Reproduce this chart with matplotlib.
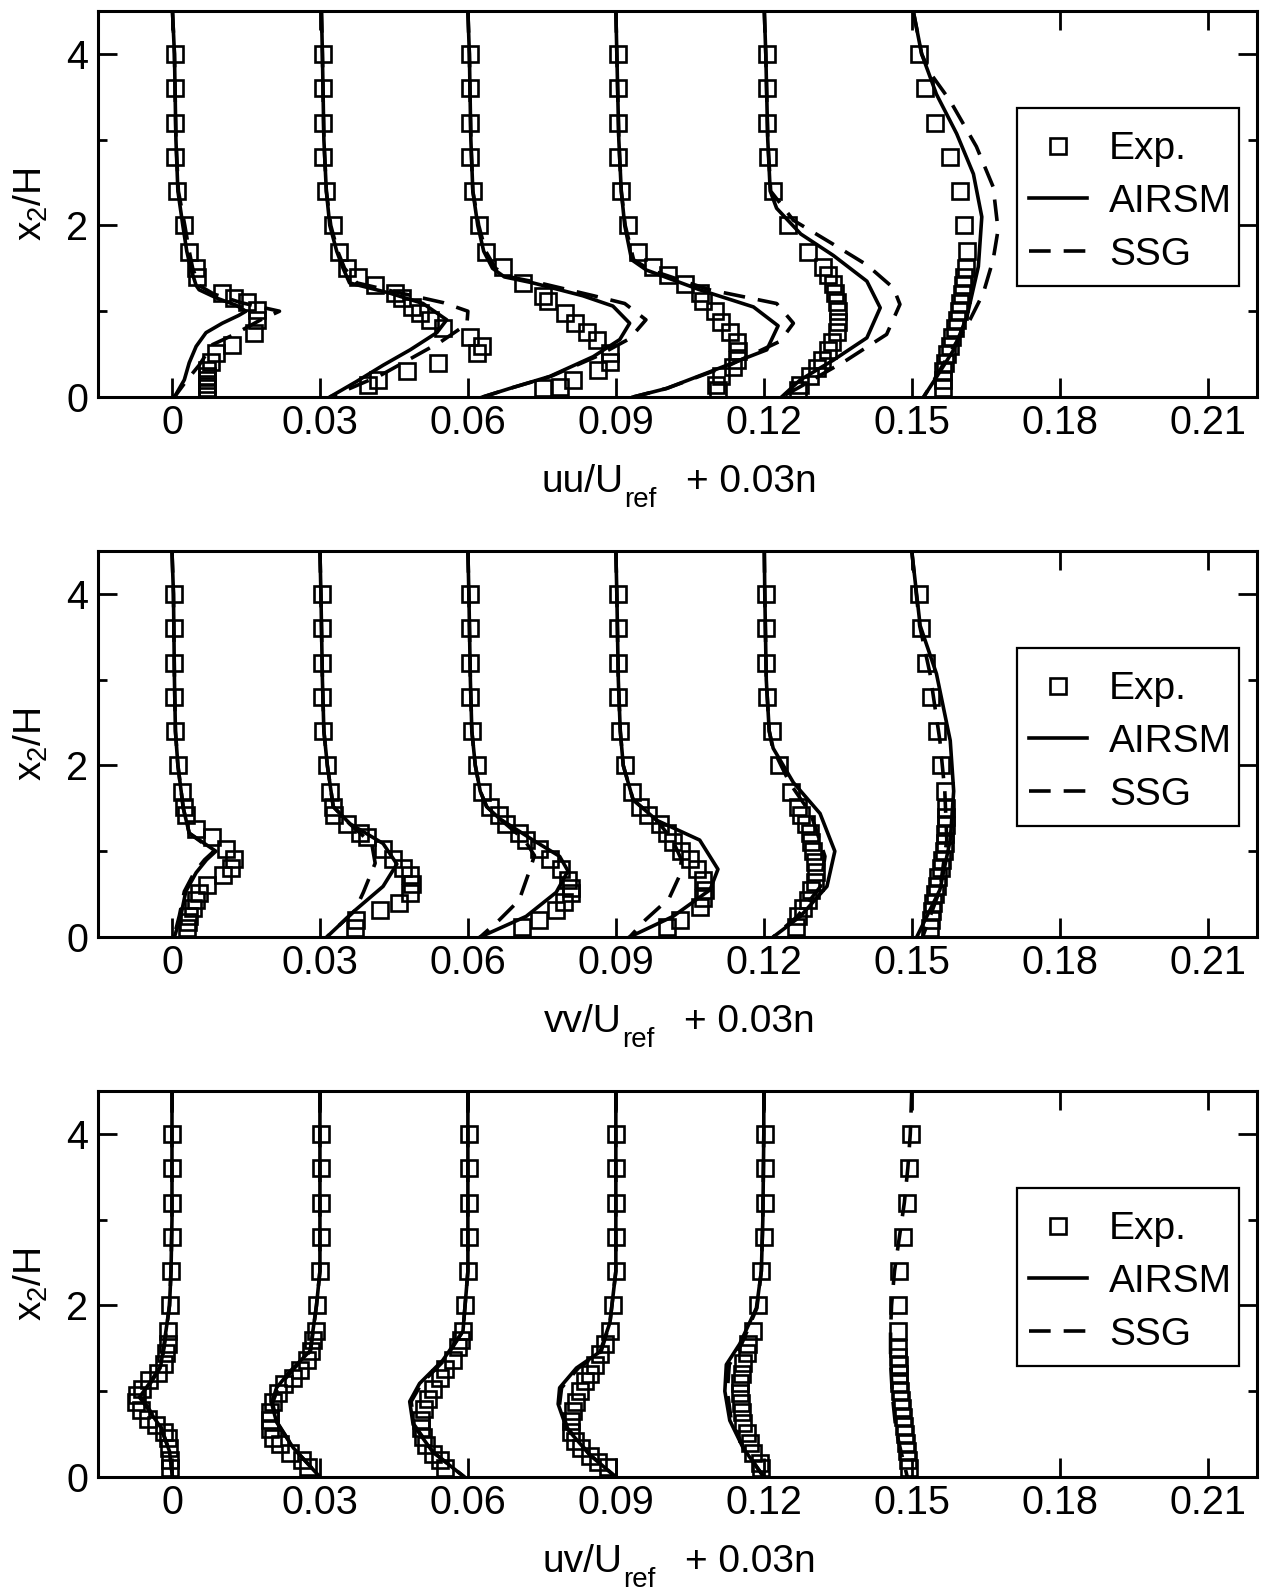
import numpy as np
import matplotlib
matplotlib.use("Agg")
import matplotlib.pyplot as plt
from matplotlib.ticker import FixedLocator
from matplotlib.lines import Line2D
from matplotlib.patches import Rectangle

# ---------------- data ----------------
shift = 0.03                       # profile n is shifted by 0.03*n
xticks = [0, 0.03, 0.06, 0.09, 0.12, 0.15, 0.18, 0.21]
xticklabels = ["0", "0.03", "0.06", "0.09", "0.12", "0.15", "0.18", "0.21"]
yticks_major = [0, 2, 4]
yticks_minor = [1, 3]
legend_labels = ["Exp.", "AIRSM", "SSG"]

# ---- uu ----
uu_exp_y = [
    [4.0, 3.6, 3.2, 2.8, 2.4, 2.0, 1.69, 1.5, 1.4, 1.21, 1.15, 1.11, 1.01, 0.9, 0.75, 0.61, 0.51, 0.41, 0.31, 0.25, 0.2, 0.15, 0.1, 0.05],
    [4.0, 3.6, 3.2, 2.8, 2.4, 2.0, 1.69, 1.5, 1.4, 1.31, 1.21, 1.15, 1.05, 0.98, 0.9, 0.8, 0.7, 0.59, 0.51, 0.4, 0.3, 0.2, 0.14],
    [4.0, 3.6, 3.2, 2.8, 2.4, 2.0, 1.69, 1.52, 1.33, 1.18, 1.12, 0.98, 0.86, 0.76, 0.67, 0.51, 0.41, 0.31, 0.2, 0.12, 0.1],
    [4.0, 3.6, 3.2, 2.8, 2.4, 2.0, 1.69, 1.52, 1.42, 1.32, 1.21, 1.12, 1.0, 0.87, 0.76, 0.64, 0.54, 0.43, 0.35, 0.25, 0.14, 0.08],
    [4.0, 3.6, 3.2, 2.8, 2.4, 2.0, 1.69, 1.52, 1.42, 1.32, 1.21, 1.11, 1.0, 0.88, 0.76, 0.64, 0.55, 0.43, 0.34, 0.24, 0.14, 0.08],
    [4.0, 3.6, 3.2, 2.8, 2.4, 2.0, 1.7, 1.5, 1.4, 1.3, 1.2, 1.1, 1.0, 0.9, 0.8, 0.7, 0.6, 0.5, 0.4, 0.3, 0.2, 0.1],
]
uu_exp_x = [
    [0.0007, 0.0007, 0.0007, 0.0007, 0.0011, 0.0025, 0.0035, 0.0049, 0.0051, 0.0102, 0.0126, 0.0153, 0.0173, 0.0173, 0.0167, 0.0122, 0.0089, 0.0079, 0.0072, 0.007, 0.007, 0.007, 0.007, 0.007],
    [0.0007, 0.0007, 0.0007, 0.0007, 0.0012, 0.0026, 0.0039, 0.0054, 0.0078, 0.0112, 0.0152, 0.0166, 0.0186, 0.0203, 0.0223, 0.025, 0.0305, 0.0328, 0.0318, 0.024, 0.0176, 0.0118, 0.0098],
    [0.0005, 0.0005, 0.0005, 0.0005, 0.001, 0.0022, 0.0037, 0.0071, 0.0112, 0.0153, 0.0163, 0.0197, 0.0217, 0.0241, 0.0261, 0.0288, 0.0288, 0.0264, 0.0213, 0.0186, 0.0152],
    [0.0004, 0.0004, 0.0004, 0.0004, 0.0011, 0.0025, 0.0045, 0.0076, 0.0106, 0.014, 0.017, 0.0177, 0.0201, 0.0214, 0.0231, 0.0245, 0.0248, 0.0245, 0.0238, 0.0214, 0.0204, 0.0207],
    [0.0006, 0.0006, 0.0006, 0.0008, 0.0019, 0.005, 0.009, 0.0121, 0.0131, 0.0141, 0.0144, 0.0148, 0.0151, 0.0151, 0.0148, 0.0138, 0.0131, 0.0117, 0.0107, 0.0094, 0.0073, 0.0069],
    [0.0014, 0.0027, 0.0047, 0.0077, 0.0097, 0.0106, 0.0112, 0.0109, 0.0106, 0.0103, 0.0101, 0.0098, 0.0095, 0.0091, 0.0088, 0.0081, 0.0078, 0.0071, 0.0067, 0.0064, 0.0063, 0.0064],
]
uu_airsm_y = [
    [4.5, 4.0, 3.0, 2.4, 2.0, 1.7, 1.5, 1.3, 1.25, 1.15, 1.07, 1.0, 0.95, 0.86, 0.75, 0.59, 0.4, 0.2, 0.0],
    [4.5, 4.0, 3.0, 2.4, 2.0, 1.7, 1.5, 1.33, 1.21, 1.09, 0.9, 0.75, 0.55, 0.37, 0.18, 0.0],
    [4.5, 4.0, 3.0, 2.4, 2.0, 1.7, 1.5, 1.4, 1.33, 1.18, 1.06, 0.86, 0.67, 0.47, 0.24, 0.1, 0.0],
    [4.5, 4.0, 3.0, 2.4, 2.0, 1.6, 1.48, 1.25, 1.05, 0.83, 0.55, 0.37, 0.1, 0.0],
    [4.5, 4.0, 3.0, 2.4, 2.2, 1.9, 1.65, 1.35, 1.04, 0.69, 0.43, 0.2, 0.0],
    [4.5, 4.0, 3.53, 3.07, 2.6, 2.1, 1.52, 0.94, 0.55, 0.24, 0.0],
]
uu_airsm_x = [
    [0.0001, 0.0005, 0.0008, 0.0012, 0.0022, 0.003, 0.0038, 0.0049, 0.0055, 0.0092, 0.013, 0.015, 0.0135, 0.0102, 0.0069, 0.0049, 0.0035, 0.0025, 0.0005],
    [0.0003, 0.0005, 0.0008, 0.0013, 0.002, 0.0034, 0.0047, 0.006, 0.0142, 0.0209, 0.0257, 0.0237, 0.0183, 0.0128, 0.0074, 0.002],
    [0.0, 0.0003, 0.0006, 0.001, 0.002, 0.0032, 0.005, 0.0074, 0.0132, 0.0233, 0.0294, 0.0328, 0.0308, 0.0254, 0.0166, 0.0085, 0.003],
    [0.0, 0.0002, 0.0006, 0.0011, 0.0018, 0.0032, 0.0062, 0.017, 0.0279, 0.0329, 0.0306, 0.0225, 0.0103, 0.0035],
    [0.0001, 0.0004, 0.0008, 0.0013, 0.0026, 0.0075, 0.0141, 0.0209, 0.0236, 0.0209, 0.0141, 0.0074, 0.0036],
    [0.0003, 0.002, 0.005, 0.0091, 0.0125, 0.0142, 0.0135, 0.0112, 0.0085, 0.0051, 0.0024],
]
uu_ssg_y = [
    [4.5, 4.0, 3.0, 2.4, 2.0, 1.7, 1.5, 1.3, 1.2, 1.1, 1.0, 0.9, 0.72, 0.61, 0.37, 0.18, 0.0],
    [4.5, 4.0, 3.0, 2.4, 2.0, 1.7, 1.5, 1.33, 1.21, 1.1, 1.0, 0.85, 0.64, 0.4, 0.25, 0.0],
    [4.5, 4.0, 3.0, 2.4, 2.0, 1.7, 1.5, 1.4, 1.33, 1.18, 1.09, 0.9, 0.68, 0.47, 0.24, 0.1, 0.0],
    [4.5, 4.0, 3.0, 2.4, 2.0, 1.6, 1.48, 1.25, 1.09, 0.86, 0.65, 0.37, 0.1, 0.0],
    [4.5, 4.0, 3.0, 2.4, 2.06, 1.78, 1.54, 1.27, 1.08, 0.73, 0.43, 0.12, 0.0],
    [4.5, 4.0, 3.78, 3.46, 2.92, 2.45, 1.95, 1.6, 1.21, 0.9, 0.51, 0.12, 0.0],
]
uu_ssg_x = [
    [0.0001, 0.0005, 0.0008, 0.0013, 0.0026, 0.0035, 0.0042, 0.0055, 0.0085, 0.014, 0.0218, 0.018, 0.0123, 0.0082, 0.0055, 0.0028, 0.0005],
    [0.0003, 0.0005, 0.0008, 0.0013, 0.0022, 0.0036, 0.005, 0.0075, 0.0165, 0.025, 0.03, 0.0298, 0.0244, 0.0169, 0.0122, 0.002],
    [0.0, 0.0003, 0.0006, 0.001, 0.0022, 0.0036, 0.0056, 0.0085, 0.0145, 0.0255, 0.0318, 0.0361, 0.0328, 0.026, 0.0168, 0.0085, 0.003],
    [0.0, 0.0002, 0.0006, 0.0011, 0.0019, 0.0036, 0.007, 0.019, 0.0326, 0.036, 0.0333, 0.023, 0.0103, 0.0035],
    [0.0001, 0.0004, 0.0008, 0.0014, 0.006, 0.0141, 0.0209, 0.0263, 0.0276, 0.0249, 0.0168, 0.0074, 0.0036],
    [0.0003, 0.002, 0.0037, 0.0077, 0.0131, 0.0165, 0.0175, 0.0165, 0.0145, 0.0118, 0.0077, 0.0037, 0.0024],
]

# ---- vv ----
vv_exp_y = [
    [4.0, 3.6, 3.2, 2.8, 2.4, 2.0, 1.69, 1.52, 1.42, 1.26, 1.16, 1.03, 0.91, 0.81, 0.72, 0.61, 0.51, 0.43, 0.34, 0.25, 0.17, 0.1],
    [4.0, 3.6, 3.2, 2.8, 2.4, 2.0, 1.69, 1.52, 1.42, 1.32, 1.21, 1.16, 1.03, 0.91, 0.81, 0.72, 0.62, 0.51, 0.4, 0.31, 0.2, 0.1],
    [4.0, 3.6, 3.2, 2.8, 2.4, 2.0, 1.69, 1.52, 1.42, 1.32, 1.21, 1.13, 1.03, 0.91, 0.79, 0.67, 0.57, 0.51, 0.41, 0.31, 0.2, 0.12],
    [4.0, 3.6, 3.2, 2.8, 2.4, 2.0, 1.69, 1.52, 1.42, 1.32, 1.21, 1.11, 1.0, 0.91, 0.79, 0.67, 0.55, 0.45, 0.35, 0.2, 0.12],
    [4.0, 3.6, 3.2, 2.8, 2.4, 2.0, 1.69, 1.52, 1.42, 1.32, 1.21, 1.11, 1.0, 0.88, 0.76, 0.64, 0.55, 0.43, 0.34, 0.24, 0.12],
    [4.0, 3.6, 3.2, 2.8, 2.4, 2.0, 1.7, 1.5, 1.4, 1.3, 1.2, 1.1, 1.0, 0.9, 0.8, 0.7, 0.6, 0.5, 0.4, 0.3, 0.2, 0.1],
]
vv_exp_x = [
    [0.0005, 0.0005, 0.0005, 0.0005, 0.0006, 0.0013, 0.002, 0.0025, 0.0028, 0.0049, 0.0082, 0.011, 0.0126, 0.012, 0.0103, 0.0072, 0.0055, 0.0049, 0.0042, 0.0035, 0.0033, 0.003],
    [0.0005, 0.0005, 0.0005, 0.0005, 0.0007, 0.0015, 0.0021, 0.0027, 0.0029, 0.0054, 0.0081, 0.0095, 0.0128, 0.0149, 0.0169, 0.0183, 0.0186, 0.0183, 0.016, 0.0122, 0.0074, 0.0071],
    [0.0005, 0.0005, 0.0005, 0.0005, 0.0008, 0.0018, 0.0029, 0.0044, 0.0064, 0.0078, 0.0104, 0.0118, 0.0145, 0.0166, 0.0189, 0.0203, 0.0209, 0.0209, 0.0195, 0.0179, 0.0145, 0.011],
    [0.0004, 0.0004, 0.0004, 0.0004, 0.0009, 0.0018, 0.0032, 0.0049, 0.0066, 0.0089, 0.0103, 0.0116, 0.0133, 0.015, 0.0164, 0.0177, 0.0181, 0.0177, 0.017, 0.013, 0.0103],
    [0.0005, 0.0005, 0.0005, 0.0006, 0.0016, 0.0031, 0.0056, 0.0069, 0.0076, 0.0086, 0.0093, 0.0096, 0.01, 0.0103, 0.0106, 0.0103, 0.0096, 0.0089, 0.0079, 0.0069, 0.0066],
    [0.0015, 0.0019, 0.0029, 0.0038, 0.0052, 0.006, 0.0068, 0.0069, 0.0069, 0.0069, 0.0068, 0.0067, 0.0065, 0.0062, 0.0059, 0.0054, 0.0051, 0.0047, 0.0044, 0.0041, 0.0038, 0.0036],
]
vv_airsm_y = [
    [4.5, 4.0, 3.0, 2.4, 2.0, 1.5, 1.21, 1.0, 0.9, 0.75, 0.53, 0.25, 0.0],
    [4.5, 4.0, 3.0, 2.4, 2.0, 1.52, 1.32, 1.09, 0.85, 0.59, 0.31, 0.0],
    [4.5, 4.0, 3.0, 2.4, 2.0, 1.7, 1.52, 1.38, 1.13, 0.94, 0.77, 0.52, 0.24, 0.0],
    [4.5, 4.0, 3.0, 2.4, 2.0, 1.6, 1.36, 1.13, 0.79, 0.55, 0.24, 0.0],
    [4.5, 4.0, 3.0, 2.4, 2.2, 1.8, 1.44, 1.0, 0.59, 0.24, 0.0],
    [4.5, 3.63, 3.07, 2.29, 1.7, 1.13, 0.55, 0.0],
]
vv_airsm_x = [
    [0.0, 0.0003, 0.0005, 0.0007, 0.0012, 0.0023, 0.0035, 0.0089, 0.007, 0.0049, 0.0028, 0.0018, 0.0005],
    [0.0, 0.0002, 0.0005, 0.0008, 0.0015, 0.0027, 0.0061, 0.0128, 0.0156, 0.0128, 0.0071, 0.0014],
    [0.0, 0.0002, 0.0005, 0.0008, 0.0015, 0.0025, 0.0038, 0.0064, 0.0132, 0.0186, 0.0203, 0.0179, 0.0118, 0.0025],
    [0.0, 0.0002, 0.0005, 0.0009, 0.0015, 0.0035, 0.0083, 0.017, 0.0207, 0.0191, 0.0116, 0.0028],
    [0.0001, 0.0002, 0.0005, 0.0011, 0.0019, 0.006, 0.0114, 0.0144, 0.0128, 0.0074, 0.0019],
    [0.0, 0.0017, 0.005, 0.0078, 0.0085, 0.0078, 0.0057, 0.001],
]
vv_ssg_y = [
    [4.5, 4.0, 3.0, 2.4, 2.0, 1.5, 1.21, 1.0, 0.9, 0.75, 0.53, 0.25, 0.0],
    [4.5, 4.0, 3.0, 2.4, 2.0, 1.52, 1.32, 1.09, 0.86, 0.52, 0.31, 0.0],
    [4.5, 4.0, 3.0, 2.4, 2.0, 1.7, 1.52, 1.38, 1.13, 0.95, 0.79, 0.43, 0.2, 0.0],
    [4.5, 4.0, 3.0, 2.4, 2.0, 1.6, 1.36, 1.13, 0.9, 0.7, 0.45, 0.2, 0.0],
    [4.5, 4.0, 3.0, 2.4, 2.2, 1.8, 1.44, 0.94, 0.59, 0.24, 0.0],
    [4.5, 3.63, 3.07, 2.29, 1.7, 1.13, 0.55, 0.0],
]
vv_ssg_x = [
    [0.0, 0.0003, 0.0005, 0.0007, 0.0012, 0.0023, 0.0035, 0.0085, 0.0066, 0.0045, 0.0025, 0.0015, 0.0004],
    [0.0, 0.0002, 0.0005, 0.0008, 0.0015, 0.0027, 0.006, 0.0105, 0.0112, 0.0088, 0.0071, 0.0014],
    [0.0, 0.0002, 0.0005, 0.0008, 0.0015, 0.0025, 0.0038, 0.0064, 0.0115, 0.0135, 0.0126, 0.0104, 0.0064, 0.0025],
    [0.0, 0.0002, 0.0005, 0.0009, 0.0015, 0.0035, 0.0083, 0.0115, 0.0133, 0.0128, 0.0108, 0.006, 0.0028],
    [0.0001, 0.0002, 0.0005, 0.0011, 0.0018, 0.0052, 0.0095, 0.0124, 0.0115, 0.0068, 0.0019],
    [0.0, 0.0016, 0.0037, 0.0057, 0.0067, 0.0071, 0.0057, 0.0022],
]

# ---- uv ----
uv_exp_y = [
    [4.0, 3.6, 3.2, 2.8, 2.4, 2.0, 1.7, 1.55, 1.45, 1.32, 1.21, 1.13, 1.03, 0.96, 0.88, 0.78, 0.68, 0.61, 0.53, 0.45, 0.34, 0.2, 0.1],
    [4.0, 3.6, 3.2, 2.8, 2.4, 2.0, 1.7, 1.6, 1.47, 1.36, 1.25, 1.15, 1.08, 0.98, 0.88, 0.76, 0.66, 0.56, 0.46, 0.38, 0.28, 0.2, 0.12],
    [4.0, 3.6, 3.2, 2.8, 2.4, 2.0, 1.7, 1.6, 1.52, 1.36, 1.26, 1.15, 1.03, 0.91, 0.79, 0.67, 0.57, 0.47, 0.37, 0.27, 0.2, 0.1],
    [4.0, 3.6, 3.2, 2.8, 2.4, 2.0, 1.7, 1.55, 1.43, 1.3, 1.2, 1.12, 1.0, 0.88, 0.77, 0.65, 0.53, 0.42, 0.34, 0.24, 0.17, 0.12],
    [4.0, 3.6, 3.2, 2.8, 2.4, 2.0, 1.7, 1.55, 1.45, 1.33, 1.2, 1.1, 0.98, 0.86, 0.76, 0.63, 0.51, 0.4, 0.28, 0.16, 0.1],
    [4.0, 3.6, 3.2, 2.8, 2.4, 2.0, 1.7, 1.5, 1.4, 1.3, 1.2, 1.1, 1.0, 0.9, 0.8, 0.7, 0.6, 0.5, 0.4, 0.3, 0.2, 0.1],
]
uv_exp_x = [
    [0.0, 0.0, 0.0, 0.0, -0.0002, -0.0005, -0.0009, -0.0009, -0.0012, -0.0016, -0.0029, -0.0046, -0.006, -0.007, -0.0073, -0.0063, -0.0049, -0.0032, -0.0016, -0.0009, -0.0007, -0.0004, -0.0004],
    [0.0002, 0.0002, 0.0002, 0.0002, 0.0, -0.0005, -0.0008, -0.0014, -0.0018, -0.0027, -0.004, -0.0054, -0.0072, -0.0086, -0.0095, -0.0102, -0.0102, -0.0102, -0.0095, -0.0081, -0.0061, -0.0037, -0.0024],
    [0.0003, 0.0003, 0.0003, 0.0003, 0.0001, -0.0005, -0.0009, -0.0014, -0.002, -0.0031, -0.0047, -0.0057, -0.0071, -0.0081, -0.0088, -0.0095, -0.0095, -0.0091, -0.0084, -0.0071, -0.0057, -0.0047],
    [0.0001, 0.0001, 0.0001, 0.0001, 0.0, -0.0005, -0.0011, -0.0022, -0.0032, -0.0043, -0.0053, -0.0063, -0.0073, -0.008, -0.0087, -0.009, -0.009, -0.0083, -0.007, -0.0053, -0.0036, -0.0016],
    [0.0002, 0.0002, 0.0002, 0.0, -0.0005, -0.0011, -0.0022, -0.0032, -0.0035, -0.0042, -0.0045, -0.0049, -0.0049, -0.0047, -0.0045, -0.0042, -0.0035, -0.0029, -0.0022, -0.0008, -0.0005],
    [-0.0001, -0.0005, -0.001, -0.0018, -0.0025, -0.0028, -0.0028, -0.0028, -0.0027, -0.0026, -0.0025, -0.0025, -0.0024, -0.0022, -0.002, -0.0018, -0.0016, -0.0013, -0.0011, -0.0009, -0.0007, -0.0006],
]
uv_airsm_y = [
    [4.5, 4.0, 3.0, 2.4, 2.0, 1.55, 1.29, 1.09, 0.93, 0.83, 0.58, 0.3, 0.0],
    [4.5, 4.0, 3.0, 2.4, 2.0, 1.47, 1.23, 1.04, 0.86, 0.64, 0.34, 0.0],
    [4.5, 4.0, 3.0, 2.4, 1.7, 1.36, 1.09, 0.88, 0.61, 0.29, 0.0],
    [4.5, 4.0, 3.0, 2.4, 1.8, 1.46, 1.27, 1.04, 0.85, 0.57, 0.26, 0.0],
    [4.5, 4.0, 3.0, 2.4, 1.97, 1.55, 1.31, 1.0, 0.66, 0.34, 0.0],
    None,
]
uv_airsm_x = [
    [0.0, 0.0, 0.0, -0.0002, -0.0005, -0.0016, -0.0023, -0.0046, -0.0066, -0.0053, -0.0023, -0.0005, 0.0001],
    [0.0, 0.0, 0.0, 0.0, -0.0007, -0.002, -0.0061, -0.0088, -0.0098, -0.0088, -0.0054, 0.0],
    [0.0, 0.0, 0.0, 0.0, -0.001, -0.0051, -0.0098, -0.0118, -0.0111, -0.0071, -0.0007],
    [0.0, 0.0, 0.0, 0.0, -0.0012, -0.0032, -0.008, -0.0114, -0.0117, -0.01, -0.0053, 0.0],
    [0.0, 0.0, -0.0002, -0.0005, -0.0015, -0.0049, -0.0076, -0.0079, -0.0069, -0.0042, 0.0],
    None,
]
uv_ssg_y = [
    [4.5, 4.0, 3.0, 2.4, 2.0, 1.55, 1.29, 1.09, 0.93, 0.83, 0.58, 0.3, 0.0],
    [4.5, 4.0, 3.0, 2.4, 2.0, 1.47, 1.23, 1.04, 0.86, 0.64, 0.34, 0.0],
    [4.5, 4.0, 3.0, 2.4, 1.7, 1.36, 1.09, 0.88, 0.61, 0.29, 0.0],
    [4.5, 4.0, 3.0, 2.4, 1.8, 1.46, 1.27, 1.04, 0.85, 0.57, 0.26, 0.0],
    [4.5, 4.0, 3.0, 2.4, 1.97, 1.55, 1.31, 1.0, 0.66, 0.34, 0.0],
    [4.5, 4.0, 3.6, 3.2, 2.8, 2.4, 2.0, 1.7, 1.33, 0.93, 0.55, 0.3, 0.0],
]
uv_ssg_x = [
    [0.0, 0.0, 0.0, -0.0002, -0.0005, -0.0015, -0.0022, -0.0044, -0.0063, -0.0051, -0.0022, -0.0005, 0.0001],
    [0.0, 0.0, 0.0, 0.0, -0.0007, -0.0019, -0.0058, -0.0085, -0.0096, -0.0087, -0.0054, 0.0],
    [0.0, 0.0, 0.0, 0.0, -0.001, -0.0048, -0.0094, -0.0115, -0.0109, -0.007, -0.0007],
    [0.0, 0.0, 0.0, 0.0, -0.0012, -0.003, -0.0076, -0.011, -0.0114, -0.0098, -0.0053, 0.0],
    [0.0, 0.0, -0.0002, -0.0005, -0.0014, -0.0045, -0.007, -0.0074, -0.0066, -0.0041, 0.0],
    [0.0, -0.0003, -0.0008, -0.0015, -0.0025, -0.0035, -0.0041, -0.0043, -0.0043, -0.0039, -0.0032, -0.0022, -0.0009],
]

panels = [
    ("uu", uu_exp_x, uu_exp_y, uu_airsm_x, uu_airsm_y, uu_ssg_x, uu_ssg_y),
    ("vv", vv_exp_x, vv_exp_y, vv_airsm_x, vv_airsm_y, vv_ssg_x, vv_ssg_y),
    ("uv", uv_exp_x, uv_exp_y, uv_airsm_x, uv_airsm_y, uv_ssg_x, uv_ssg_y),
]

# ---------------- style ----------------
plt.rcParams['font.family'] = ['Liberation Sans', 'DejaVu Sans']
plt.rcParams['mathtext.default'] = 'regular'
FS = 28
FS_TICK = 28.5
FS_SUB = 20
LW = 2.6
DASH = (6, 3.6)
MS = 11.2
MEW = 1.9

W, H = 1263, 1590
fig = plt.figure(figsize=(W / 100, H / 100), dpi=100)
renderer = fig.canvas.get_renderer()

ax_left, ax_right = 98, 1257
ax_tops = [11, 551, 1091]
ax_h = 386


def px_to_fig(x, y):
    return x / W, 1 - y / H


def text_width(s, size):
    t = fig.text(0, 0, s, fontsize=size)
    w = t.get_window_extent(renderer).width
    t.remove()
    return w


for (name, ex, ey, ax_, ay_, sx_, sy_), top in zip(panels, ax_tops):
    ax = fig.add_axes([ax_left / W, 1 - (top + ax_h) / H,
                       (ax_right - ax_left) / W, ax_h / H])
    for n in range(6):
        off = shift * n
        if sx_[n] is not None:
            ax.plot(np.array(sx_[n]) + off, sy_[n], color='black', lw=LW,
                    dashes=DASH, dash_capstyle='butt')
        if ax_[n] is not None:
            ax.plot(np.array(ax_[n]) + off, ay_[n], color='black', lw=LW,
                    solid_joinstyle='round')
        ax.plot(np.array(ex[n]) + off, ey[n], linestyle='none', marker='s',
                markersize=MS, markeredgewidth=MEW, markerfacecolor='none',
                markeredgecolor='black')

    ax.set_xlim(-0.015, 0.22)
    ax.set_ylim(0, 4.5)
    ax.xaxis.set_major_locator(FixedLocator(xticks))
    ax.set_xticklabels(xticklabels)
    ax.yaxis.set_major_locator(FixedLocator(yticks_major))
    ax.yaxis.set_minor_locator(FixedLocator(yticks_minor))
    ax.set_yticklabels([str(v) for v in yticks_major])
    ax.tick_params(axis='both', which='major', direction='in', length=13.5,
                   width=2.0, labelsize=FS_TICK, top=True, right=True)
    ax.tick_params(axis='x', which='major', pad=5)
    ax.tick_params(axis='y', which='major', pad=7)
    ax.tick_params(axis='y', which='minor', direction='in', length=6.5,
                   width=2.0, left=True, right=True)
    for sp in ax.spines.values():
        sp.set_linewidth(2.2)

    # x label built from pieces: "<name>/U" + subscript "ref" + "+ 0.03n"
    main = name + "/U"
    sub = "ref"
    tail = "+ 0.03n"
    w_main = text_width(main, FS)
    w_sub = text_width(sub, FS_SUB)
    w_tail = text_width(tail, FS)
    gap = 30
    total = w_main + w_sub + gap + w_tail
    x0 = 679 - total / 2
    base = top + ax_h + 95
    fig.text(*px_to_fig(x0, base), main, fontsize=FS, va='baseline', ha='left')
    fig.text(*px_to_fig(x0 + w_main + 1, base + 15), sub, fontsize=FS_SUB,
             va='baseline', ha='left')
    fig.text(*px_to_fig(x0 + w_main + w_sub + gap, base), tail, fontsize=FS,
             va='baseline', ha='left')

    ax.set_ylabel(r"x$_2$/H", fontsize=FS, labelpad=12)

    # legend with a fixed frame
    lx0, lx1 = (1017 - ax_left) / 1159, (1239 - ax_left) / 1159
    ly1, ly0 = (ax_h - (108 - 11)) / ax_h, (ax_h - (286 - 11)) / ax_h
    ax.add_patch(Rectangle((lx0, ly0), lx1 - lx0, ly1 - ly0,
                           transform=ax.transAxes, fill=True, facecolor='white',
                           edgecolor='black', lw=1.6, zorder=5))
    handles = [
        Line2D([], [], linestyle='none', marker='s', markersize=MS,
               markeredgewidth=MEW, markerfacecolor='none', markeredgecolor='black'),
        Line2D([], [], color='black', lw=LW),
        Line2D([], [], color='black', lw=LW, dashes=DASH),
    ]
    leg = ax.legend(handles, legend_labels, loc='center',
                    bbox_to_anchor=((lx0 + lx1) / 2 + 0.002, (ly0 + ly1) / 2 - 0.013),
                    borderaxespad=0, borderpad=0, fontsize=FS, frameon=False,
                    handlelength=1.5, handletextpad=0.57, labelspacing=0.43)
    leg.set_zorder(6)

fig.savefig("out.png", dpi=100)
